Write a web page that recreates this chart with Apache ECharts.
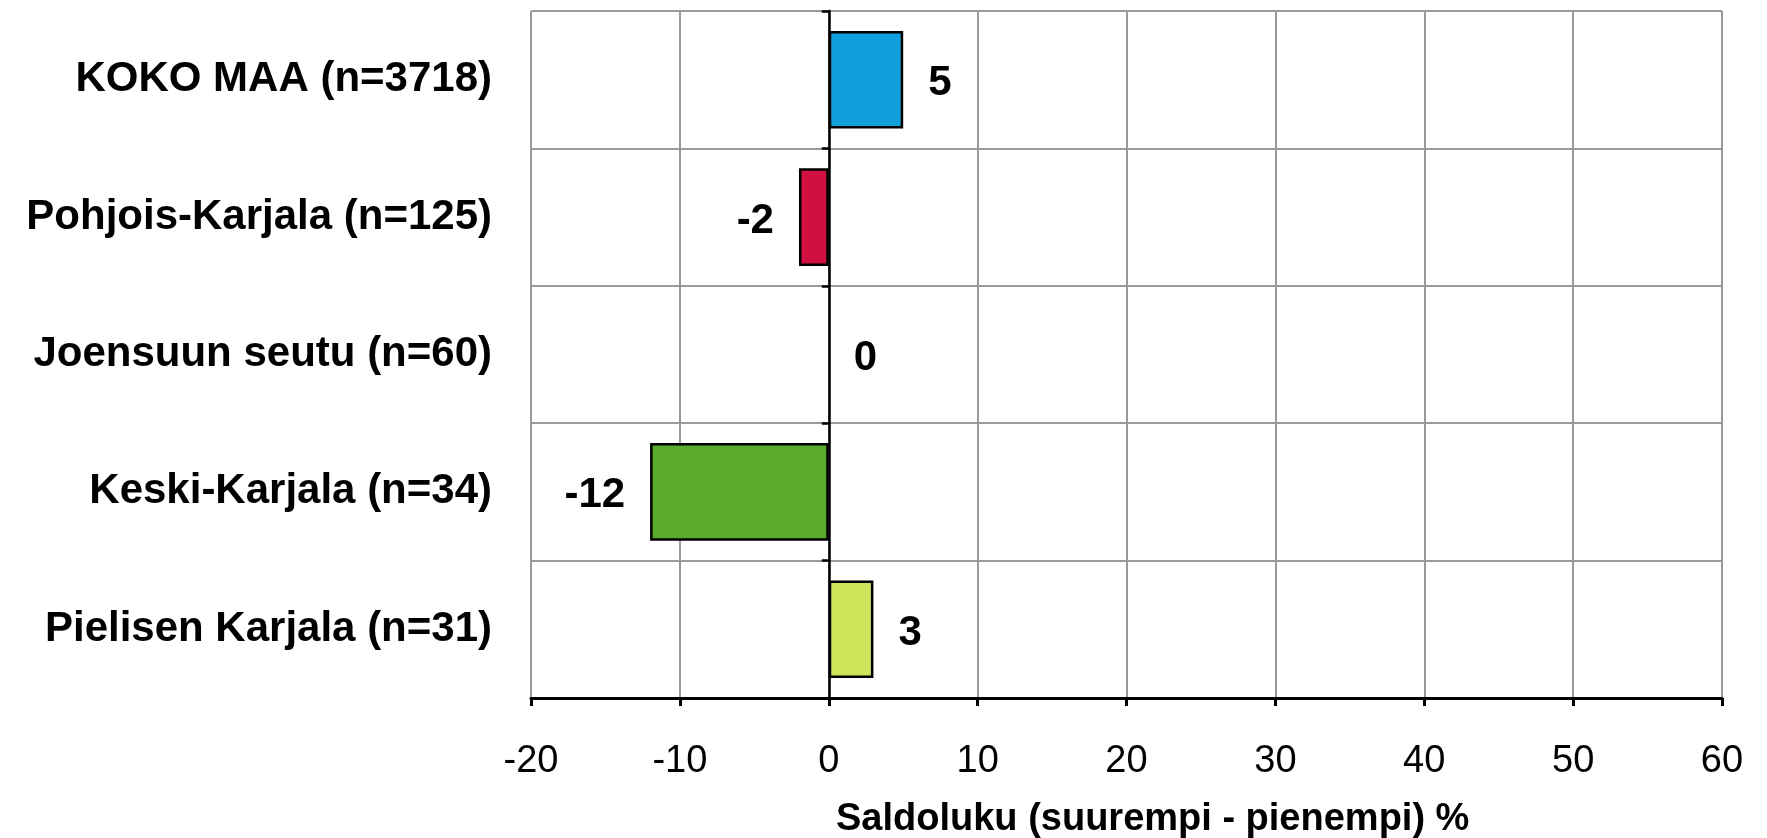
<!DOCTYPE html>
<html>
<head>
<meta charset="utf-8">
<script src="https://cdn.jsdelivr.net/npm/echarts@6/dist/echarts.min.js"></script>
<style>
html,body{margin:0;padding:0;background:#fff;}
#chart{width:1767px;height:838px;}
</style>
</head>
<body>
<div id="chart"></div>
<script>
const categories = ['KOKO MAA (n=3718)', 'Pohjois-Karjala (n=125)', 'Joensuun seutu (n=60)', 'Keski-Karjala (n=34)', 'Pielisen Karjala (n=31)'];
const values = [5, -2, 0, -12, 3];
const barColors = ['#12A0DC', '#D01040', '#FFFFFF', '#5AAA2C', '#CCE55A'];
const xTicks = { min: -20, max: 60, interval: 10 };
const axisTitle = 'Saldoluku (suurempi - pienempi) %';

const FONT = '"Liberation Sans", Arial, sans-serif';
const chart = echarts.init(document.getElementById('chart'));

const seriesData = values.map((v, i) => ({
  value: v,
  itemStyle: { color: barColors[i], borderColor: v === 0 ? 'transparent' : '#000', borderWidth: v === 0 ? 0 : 2.5 },
  label: { position: v < 0 ? 'left' : 'right' }
}));

chart.setOption({
  animation: false,
  backgroundColor: '#fff',
  grid: { left: 531, right: 45, top: 11, bottom: 140, containLabel: false },
  xAxis: {
    type: 'value',
    min: xTicks.min, max: xTicks.max, interval: xTicks.interval,
    axisLine: { show: true, onZero: false, lineStyle: { color: '#000', width: 3 } },
    axisTick: { show: true, length: 8, lineStyle: { color: '#000', width: 3 } },
    axisLabel: { fontSize: 38, color: '#000', fontFamily: FONT, margin: 45 },
    splitLine: { show: true, lineStyle: { color: '#999', width: 2 } }
  },
  yAxis: [
    {
      type: 'category', data: categories, inverse: true, position: 'left',
      axisLine: { show: false, onZero: false },
      axisTick: { show: false },
      axisLabel: { fontSize: 42, fontWeight: 'bold', color: '#000', fontFamily: FONT, margin: 39, padding: [8, 0, 0, 0] },
      splitLine: { show: true, lineStyle: { color: '#999', width: 2 } }
    },
    {
      type: 'category', data: categories, inverse: true, position: 'left',
      axisLine: { show: true, onZero: true, onZeroAxisIndex: 0, lineStyle: { color: '#000', width: 2.5 } },
      axisTick: { show: true, length: 7, lineStyle: { color: '#000', width: 2.5 } },
      axisLabel: { show: false },
      splitLine: { show: false }
    }
  ],
  graphic: [{
    type: 'text', left: 836, top: 801,
    style: { text: axisTitle, font: 'bold 38px ' + FONT, fill: '#000' }
  }],
  series: [{
    type: 'bar', yAxisIndex: 0, data: seriesData,
    barCategoryGap: '29%',
    label: { show: true, distance: 25, offset: [0, 4], fontSize: 42, fontWeight: 'bold', color: '#000', fontFamily: FONT,
      formatter: p => String(p.value) }
  }]
});
</script>
</body>
</html>
